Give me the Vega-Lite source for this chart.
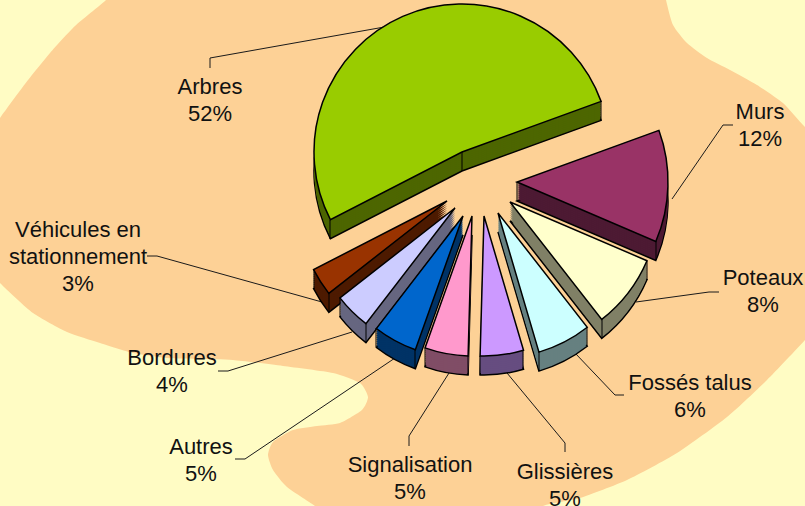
{"$schema":"https://vega.github.io/schema/vega-lite/v6.json","width":805,"height":506,"padding":0,"autosize":"none","background":"#FFFCC4","view":{"stroke":null},"datasets":{"slices":[{"name":"Murs","rank":1,"value":12,"tipX":517,"tipY":182,"r":151},{"name":"Poteaux","rank":2,"value":8,"tipX":510,"tipY":202,"r":149},{"name":"Fossés talus","rank":3,"value":6,"tipX":498,"tipY":213,"r":145},{"name":"Glissières","rank":4,"value":5,"tipX":484,"tipY":216,"r":140},{"name":"Signalisation","rank":5,"value":5,"tipX":472,"tipY":216,"r":140},{"name":"Autres","rank":6,"value":5,"tipX":463,"tipY":216,"r":142},{"name":"Bordures","rank":7,"value":4,"tipX":455,"tipY":208,"r":146},{"name":"Véhicules en stationnement","rank":8,"value":3,"tipX":447,"tipY":201,"r":150},{"name":"Arbres","rank":9,"value":52,"tipX":462,"tipY":152,"r":148}],"blob":[{"i":1,"x":135,"y":-30},{"i":2,"x":106,"y":0},{"i":3,"x":75,"y":26},{"i":4,"x":50,"y":53},{"i":5,"x":25,"y":84},{"i":6,"x":0,"y":118},{"i":7,"x":-30,"y":160},{"i":8,"x":-30,"y":250},{"i":9,"x":0,"y":283},{"i":10,"x":33,"y":313},{"i":11,"x":67,"y":332},{"i":12,"x":100,"y":343},{"i":13,"x":133,"y":353},{"i":14,"x":167,"y":358},{"i":15,"x":200,"y":359},{"i":16,"x":233,"y":360},{"i":17,"x":283,"y":366},{"i":18,"x":333,"y":373},{"i":19,"x":360,"y":383},{"i":20,"x":368,"y":397},{"i":21,"x":362,"y":410},{"i":22,"x":340,"y":423},{"i":23,"x":317,"y":426},{"i":24,"x":293,"y":430},{"i":25,"x":273,"y":442},{"i":26,"x":268,"y":455},{"i":27,"x":273,"y":470},{"i":28,"x":287,"y":487},{"i":29,"x":315,"y":506},{"i":30,"x":345,"y":530},{"i":31,"x":500,"y":530},{"i":32,"x":543,"y":506},{"i":33,"x":580,"y":498},{"i":34,"x":627,"y":480},{"i":35,"x":677,"y":453},{"i":36,"x":727,"y":417},{"i":37,"x":767,"y":380},{"i":38,"x":805,"y":340},{"i":39,"x":840,"y":300},{"i":40,"x":840,"y":160},{"i":41,"x":805,"y":127},{"i":42,"x":783,"y":103},{"i":43,"x":757,"y":85},{"i":44,"x":730,"y":70},{"i":45,"x":707,"y":58},{"i":46,"x":687,"y":43},{"i":47,"x":673,"y":25},{"i":48,"x":666,"y":0},{"i":49,"x":660,"y":-30}],"leaders":[{"name":"Arbres","i":1,"x":210,"y":68},{"name":"Arbres","i":2,"x":210,"y":58},{"name":"Arbres","i":3,"x":390,"y":26},{"name":"Murs","i":1,"x":733,"y":125},{"name":"Murs","i":2,"x":723,"y":125},{"name":"Murs","i":3,"x":672,"y":199},{"name":"Poteaux","i":1,"x":719,"y":292},{"name":"Poteaux","i":2,"x":709,"y":292},{"name":"Poteaux","i":3,"x":636,"y":302},{"name":"Fossés talus","i":1,"x":624,"y":395},{"name":"Fossés talus","i":2,"x":615,"y":395},{"name":"Fossés talus","i":3,"x":575,"y":353},{"name":"Glissières","i":1,"x":565,"y":452},{"name":"Glissières","i":2,"x":565,"y":443},{"name":"Glissières","i":3,"x":507,"y":373},{"name":"Signalisation","i":1,"x":409,"y":446},{"name":"Signalisation","i":2,"x":409,"y":436},{"name":"Signalisation","i":3,"x":449,"y":373},{"name":"Autres","i":1,"x":235,"y":459},{"name":"Autres","i":2,"x":245,"y":459},{"name":"Autres","i":3,"x":395,"y":358},{"name":"Bordures","i":1,"x":218,"y":371},{"name":"Bordures","i":2,"x":228,"y":371},{"name":"Bordures","i":3,"x":352,"y":332},{"name":"Véhicules en stationnement","i":1,"x":147,"y":256},{"name":"Véhicules en stationnement","i":2,"x":157,"y":256},{"name":"Véhicules en stationnement","i":3,"x":322,"y":302}],"edges":[{"x":462,"y":152,"y2":171},{"x":601,"y":101,"y2":120},{"x":330,"y":220,"y2":239},{"x":517,"y":182,"y2":201},{"x":656,"y":241,"y2":260},{"x":602,"y":319,"y2":338},{"x":647,"y":261,"y2":280},{"x":539,"y":352,"y2":371},{"x":587,"y":327,"y2":346},{"x":480,"y":356,"y2":375},{"x":523,"y":350,"y2":369},{"x":468,"y":356,"y2":375},{"x":425,"y":348,"y2":367},{"x":415,"y":350,"y2":369},{"x":376,"y":328,"y2":347},{"x":366,"y":324,"y2":343},{"x":340,"y":298,"y2":317},{"x":329,"y":293,"y2":312},{"x":314,"y":270,"y2":289}],"labels":[{"text":"Arbres\n52%","x":210,"y":87},{"text":"Murs\n12%","x":760,"y":112},{"text":"Poteaux\n8%","x":763,"y":278},{"text":"Fossés talus\n6%","x":690,"y":383},{"text":"Glissières\n5%","x":565,"y":472},{"text":"Signalisation\n5%","x":410,"y":465},{"text":"Autres\n5%","x":201,"y":447},{"text":"Bordures\n4%","x":172,"y":358},{"text":"Véhicules en\nstationnement\n3%","x":78,"y":230}]},"encoding":{"x":{"field":"x","type":"quantitative","scale":{"domain":[0,805]},"axis":null},"y":{"field":"y","type":"quantitative","scale":{"domain":[0,506],"reverse":true},"axis":null}},"layer":[{"data":{"name":"blob"},"mark":{"type":"line","fill":"#FDD196","stroke":null,"interpolate":"cardinal","tension":0.4,"clip":true},"encoding":{"order":{"field":"i","type":"quantitative"}}},{"data":{"name":"leaders"},"mark":{"type":"line","stroke":"#1a1a1a","strokeWidth":1},"encoding":{"detail":{"field":"name"},"order":{"field":"i","type":"quantitative"}}},{"data":{"name":"slices"},"transform":[{"stack":"value","sort":[{"field":"rank","order":"ascending"}],"as":["t0","t1"]}],"encoding":{"x":{"field":"tipX","type":"quantitative","scale":{"domain":[0,805]},"axis":null},"y":{"field":"tipY","type":"quantitative","scale":{"domain":[0,506],"reverse":true},"axis":null},"theta":{"field":"t0","type":"quantitative","scale":{"domain":[0,100],"range":[1.2217,7.5049]}},"theta2":{"field":"t1"},"radius":{"field":"r","type":"quantitative","scale":null},"fill":{"field":"name","type":"nominal","legend":null,"scale":{"domain":["Murs","Poteaux","Fossés talus","Glissières","Signalisation","Autres","Bordures","Véhicules en stationnement","Arbres"],"range":["#4D1A33","#808066","#668080","#664D80","#804D66","#003366","#666680","#4D1A00","#4D6600"]}}},"layer":[{"mark":{"type":"arc","yOffset":19,"stroke":"#000","strokeWidth":1.5}},{"mark":{"type":"arc","yOffset":17}},{"mark":{"type":"arc","yOffset":15}},{"mark":{"type":"arc","yOffset":13}},{"mark":{"type":"arc","yOffset":11}},{"mark":{"type":"arc","yOffset":9}},{"mark":{"type":"arc","yOffset":7}},{"mark":{"type":"arc","yOffset":5}},{"mark":{"type":"arc","yOffset":3}},{"mark":{"type":"arc","yOffset":1}}]},{"data":{"name":"slices"},"transform":[{"stack":"value","sort":[{"field":"rank","order":"ascending"}],"as":["t0","t1"]}],"mark":{"type":"arc","stroke":"#000","strokeWidth":1.5},"encoding":{"x":{"field":"tipX","type":"quantitative","scale":{"domain":[0,805]},"axis":null},"y":{"field":"tipY","type":"quantitative","scale":{"domain":[0,506],"reverse":true},"axis":null},"theta":{"field":"t0","type":"quantitative","scale":{"domain":[0,100],"range":[1.2217,7.5049]}},"theta2":{"field":"t1"},"radius":{"field":"r","type":"quantitative","scale":null},"fill":{"field":"name","type":"nominal","legend":null,"scale":{"domain":["Murs","Poteaux","Fossés talus","Glissières","Signalisation","Autres","Bordures","Véhicules en stationnement","Arbres"],"range":["#993366","#FFFFCC","#CCFFFF","#CC99FF","#FF99CC","#0066CC","#CCCCFF","#993300","#99CC00"]}}}},{"data":{"name":"edges"},"mark":{"type":"rule","stroke":"#000","strokeWidth":1},"encoding":{"y2":{"field":"y2"}}},{"data":{"name":"labels"},"mark":{"type":"text","font":"Liberation Sans","fontSize":22,"lineBreak":"\n","lineHeight":27,"align":"center","baseline":"middle","fill":"#111"},"encoding":{"text":{"field":"text"}}}],"resolve":{"scale":{"fill":"independent"}},"config":{"style":{"cell":{"stroke":null}}}}
